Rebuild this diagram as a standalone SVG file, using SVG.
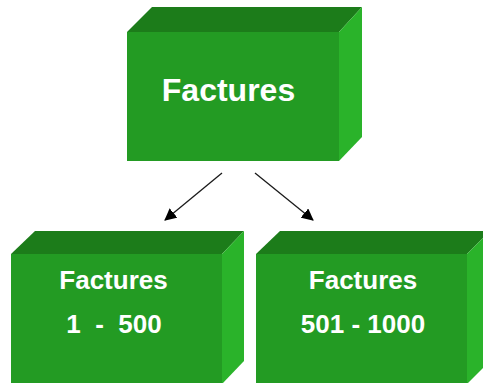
<svg xmlns="http://www.w3.org/2000/svg" width="483" height="383" viewBox="0 0 483 383">
<defs>
<style>
.front{fill:#239b23}
.top{fill:#1c7c1a}
.side{fill:#2ab32a}
.lbl{font-family:"Liberation Sans",Arial,sans-serif;font-weight:bold;fill:#ffffff;text-anchor:middle;white-space:pre}
.conn{stroke:#1a1a1a;stroke-width:1.3;fill:none;marker-end:url(#ah)}
</style>
<marker id="ah" viewBox="0 0 12 12" refX="11" refY="6" markerWidth="12" markerHeight="12" markerUnits="userSpaceOnUse" orient="auto">
<path d="M0,0 L12,6 L0,12 z" fill="#000"/>
</marker>
</defs>
<rect width="483" height="383" fill="#ffffff"/>
<g id="connectors">
<line class="conn" x1="222" y1="173" x2="165" y2="220"/>
<line class="conn" x1="255" y1="173" x2="313" y2="220"/>
</g>
<g id="node-top">
<polygon class="top" points="127,32 152,7 362,7 339,32"/>
<polygon class="side" points="339,32 362,7 362,137 339,161"/>
<rect class="front" x="127" y="32" width="212" height="129"/>
<text class="lbl" x="228.5" y="101" font-size="32">Factures</text>
</g>
<g id="node-left">
<polygon class="top" points="11,254 35,231 244,231 222,254"/>
<polygon class="side" points="222,254 244,231 244,361 222,384"/>
<rect class="front" x="11" y="254" width="211" height="130"/>
<text class="lbl" x="113.5" y="289" font-size="26">Factures</text>
<text class="lbl" x="114" y="333" font-size="26" xml:space="preserve">1  -  500</text>
</g>
<g id="node-right">
<polygon class="top" points="256,254 280,231 490,231 467,254"/>
<polygon class="side" points="467,254 490,231 490,361 467,384"/>
<rect class="front" x="256" y="254" width="211" height="130"/>
<text class="lbl" x="363" y="289" font-size="26">Factures</text>
<text class="lbl" x="363" y="333" font-size="26">501 - 1000</text>
</g>
</svg>
